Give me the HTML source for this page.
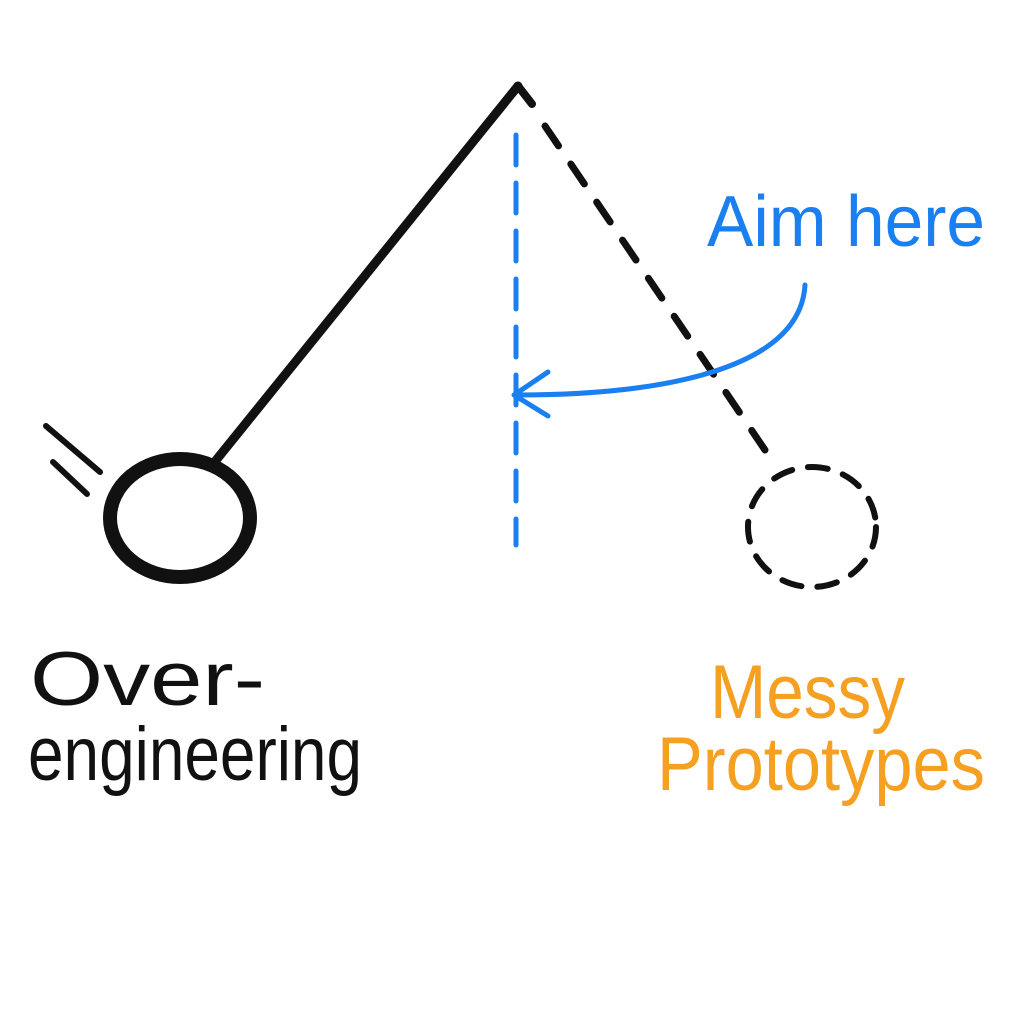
<!DOCTYPE html>
<html><head><style>
body{margin:0;background:#fff;width:1024px;height:1024px;overflow:hidden}
svg{display:block}
text{font-family:"Liberation Sans","DejaVu Sans",sans-serif}
</style></head><body>
<svg width="1024" height="1024" viewBox="0 0 1024 1024">
<rect width="1024" height="1024" fill="#fff"/>
<line x1="518" y1="86" x2="213" y2="464" stroke="#111" stroke-width="9" stroke-linecap="round"/>
<line x1="518" y1="86" x2="532" y2="104" stroke="#111" stroke-width="8" stroke-linecap="round"/>
<line x1="545" y1="126" x2="765" y2="450" stroke="#111" stroke-width="7" stroke-dasharray="24 22" stroke-linecap="round"/>
<ellipse cx="180" cy="518" rx="70" ry="59" fill="none" stroke="#111" stroke-width="14"/>
<line x1="46" y1="426" x2="100" y2="472" stroke="#111" stroke-width="6" stroke-linecap="round"/>
<line x1="53" y1="462" x2="87" y2="494" stroke="#111" stroke-width="6" stroke-linecap="round"/>
<line x1="516" y1="135" x2="516" y2="545" stroke="#1a7ff0" stroke-width="5" stroke-dasharray="30 18" stroke-linecap="round"/>
<ellipse cx="812" cy="527" rx="64" ry="60" fill="none" stroke="#111" stroke-width="6" stroke-dasharray="20 16" stroke-linecap="round"/>
<path d="M805 285 C 800 370 660 395 516 395" fill="none" stroke="#1a7ff0" stroke-width="5" stroke-linecap="round"/>
<path d="M548 372 L514 395 L548 416" fill="none" stroke="#1a7ff0" stroke-width="5" stroke-linecap="round" stroke-linejoin="round"/>
<text x="707" y="246" font-size="72" fill="#1a7ff0" textLength="278" lengthAdjust="spacingAndGlyphs">Aim here</text>
<text x="30" y="705" font-size="76" fill="#111" textLength="235" lengthAdjust="spacingAndGlyphs">Over-</text>
<text x="28" y="780" font-size="76" fill="#111" textLength="334" lengthAdjust="spacingAndGlyphs">engineering</text>
<text x="710" y="718" font-size="76" fill="#f5a020" textLength="195" lengthAdjust="spacingAndGlyphs">Messy</text>
<text x="657" y="790" font-size="76" fill="#f5a020" textLength="328" lengthAdjust="spacingAndGlyphs">Prototypes</text>
</svg>
</body></html>
